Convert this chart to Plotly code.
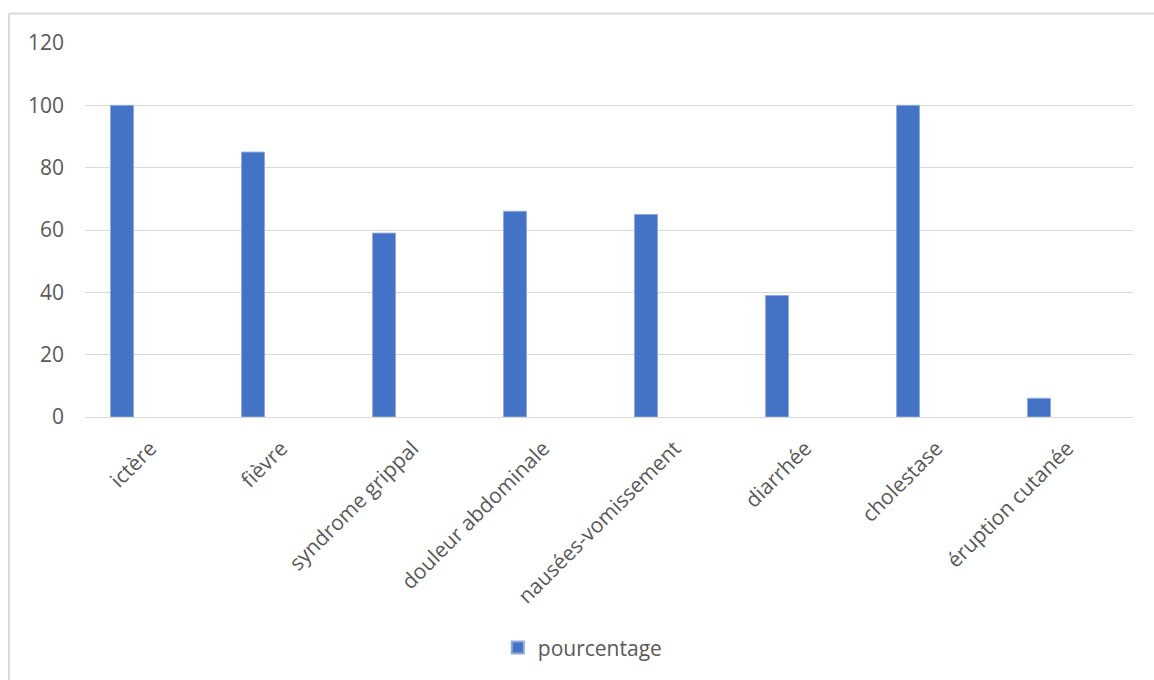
import plotly.graph_objects as go

categories = ["ictère", "fièvre", "syndrome grippal", "douleur abdominale",
              "nausées-vomissement", "diarrhée", "cholestase", "éruption cutanée"]
pourcentage = [100, 85, 59, 66, 65, 39, 100, 6]
y_ticks = [0, 20, 40, 60, 80, 100, 120]

W, H = 1154, 680
L, R, T, B = 85, 21, 42.6, 263
pw, ph = W - L - R, H - T - B

def px_x(x):
    return (x - L) / pw

def px_y(y):
    return (H - B - y) / ph

fig = go.Figure()
fig.add_trace(go.Bar(
    x=categories, y=pourcentage, name="pourcentage",
    marker=dict(color="#4472C4", line=dict(color="#8EA9DB", width=1)),
    width=0.175, offset=-0.305,
))

font = "Open Sans, Liberation Sans, sans-serif"
fig.update_layout(
    width=W, height=H,
    margin=dict(l=L, r=R, t=T, b=B, autoexpand=False),
    paper_bgcolor="white", plot_bgcolor="white",
    showlegend=True,
    legend=dict(orientation="h", x=0.475, xanchor="center", y=px_y(648), yanchor="middle",
                font=dict(family=font, size=21, color="#595959"),
                itemsizing="constant"),
    xaxis=dict(type="category", tickangle=-45, showgrid=False, showline=False,
               ticks="", ticklabelstandoff=14,
               tickfont=dict(family=font, size=21, color="#595959"),
               automargin=False, range=[-0.5, 7.5]),
    yaxis=dict(range=[0, 120], tickvals=y_ticks, showgrid=True, gridcolor="#D9D9D9",
               gridwidth=1.3, zeroline=True, zerolinecolor="#D9D9D9", zerolinewidth=1.3,
               ticks="", ticklabelstandoff=20,
               tickfont=dict(family=font, size=21, color="#595959"),
               automargin=False),
    shapes=[
        dict(type="line", xref="paper", yref="paper",
             x0=px_x(9), x1=px_x(1160), y0=px_y(13), y1=px_y(13),
             line=dict(color="#D9D9D9", width=2)),
        dict(type="line", xref="paper", yref="paper",
             x0=px_x(9), x1=px_x(9), y0=px_y(13), y1=px_y(690),
             line=dict(color="#D9D9D9", width=2)),
    ],
)

fig.write_html("out.html")
